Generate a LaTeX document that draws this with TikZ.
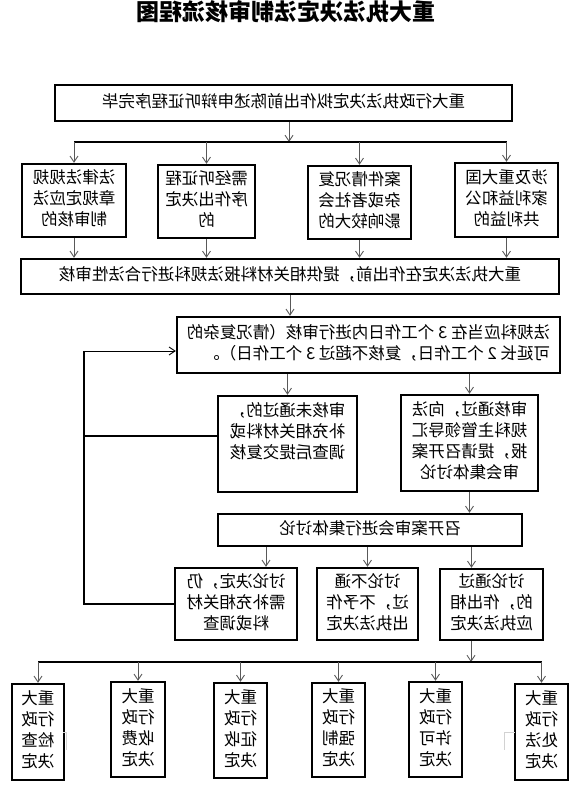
\documentclass[tikz,border=0pt]{standalone}
\usepackage{fontspec}
\setmainfont{Noto Sans CJK SC}
\usepackage{graphicx}
\usetikzlibrary{%
  arrows.meta%
}
\newcommand\mir[1]{\reflectbox{\begin{tabular}{@{}c@{}}#1\end{tabular}}}
\newcommand\mirl[1]{\reflectbox{\begin{tabular}{@{}l@{}}#1\end{tabular}}}
\tikzset{>={Straight Barb[length=6pt,width=8pt]}, box/.style = {draw, line width=2.3pt,
    inner sep=0pt, font=\fontsize{16.5}{21}\selectfont},%
    arrow/.style={->, line width=0.9pt, black!65},
    bus/.style={line width=2.2pt}}

\begin{document}
\begin{tikzpicture}[x=1pt,y=-1pt]
    \useasboundingbox (0,0) rectangle (582,792);
    \node[font=\fontsize{23}{26}\selectfont\bfseries] (title) at (286,14) {\mir{重大执法决定法制审核流程图}};
    \node[box, minimum width=457pt, minimum height=36pt] (hearing) at (283.5,103) {\mir{重大行政执法决定拟作出前陈述申辩听证程序完毕}};
    \node[box, minimum width=104pt, minimum height=73pt] (law) at (74,200.5) {\mir{法律法规规\\章规定应法\\制审核的}};
    \node[box, minimum width=97pt, minimum height=73pt] (hear) at (206.5,201.5) {\mir{需经听证程\\序作出决定\\的}};
    \node[box, minimum width=103pt, minimum height=73pt] (complex) at (359.5,202.5) {\mir{案件情况复\\杂或者社会\\影响较大的}};
    \node[box, minimum width=103pt, minimum height=74pt] (public) at (506.5,200) {\mir{涉及重大国\\家利益和公\\共利益的}};
    \node[box, minimum width=538pt, minimum height=35pt] (review) at (290,276.5) {\mir{重大执法决定在作出前，提供相关材料报法规科进行合法性审核}};
    \node[box, minimum width=383pt, minimum height=56pt] (days) at (368.5,345) {\mirl{法规科应当在 3 个工作日内进行审核（情况复杂的\\可延长 2 个工作日，复核不超过 3 个工作日）。}};
    \node[box, minimum width=139pt, minimum height=96pt] (fail) at (287.5,444) {\mir{审核未通过的，\\补充相关材料或\\调查后提交复核\\~}};
    \node[box, minimum width=137pt, minimum height=96pt] (pass) at (469.5,443) {\mir{审核通过，向法\\规科主管领导汇\\报，提请召开案\\审会集体讨论}};
    \node[box, minimum width=304pt, minimum height=32pt] (meeting) at (370,530) {\mir{召开案审会进行集体讨论}};
    \node[box, minimum width=122pt, minimum height=72pt] (more) at (236,604) {\mir{讨论决定，仍\\需补充相关材\\料或调查}};
    \node[box, minimum width=101pt, minimum height=72pt] (reject) at (367.5,604) {\mir{讨论不通\\过，不予作\\出执法决定}};
    \node[box, minimum width=103pt, minimum height=71pt] (approve) at (491.5,604.5) {\mir{讨论通过\\的，作出相\\应执法决定}};
    \node[box, minimum width=52pt, minimum height=96pt] (check) at (38,732) {\mir{重大\\行政\\检查\\决定}};
    \node[box, minimum width=54pt, minimum height=95pt] (fee) at (138,729.5) {\mir{重大\\行政\\收费\\决定}};
    \node[box, minimum width=53pt, minimum height=95pt] (levy) at (240.5,730.5) {\mir{重大\\行政\\征收\\决定}};
    \node[box, minimum width=53pt, minimum height=94pt] (force) at (338.5,730) {\mir{重大\\行政\\强制\\决定}};
    \node[box, minimum width=53pt, minimum height=95pt] (permit) at (435.5,729.5) {\mir{重大\\行政\\许可\\决定}};
    \node[box, minimum width=53pt, minimum height=96pt] (punish) at (541.5,732) {\mir{重大\\行政\\处法\\决定}};
    \coordinate (b1) at (289,142);
    \coordinate (b2) at (471,662);
    \coordinate (loop) at (84,351);
    \draw[arrow] (b1 |- hearing.south) -- (b1);
    \draw[bus] (law.north |- b1) -- (public.north |- b1);
    \foreach \n in {law,hear,complex,public}
      \draw[arrow] (\n.north |- b1) -- (\n.north);
    \foreach \n in {law,hear,complex,public}
      \draw[arrow] (\n.south) -- (\n.south |- review.north);
    \draw[arrow] (review.south) -- (review.south |- days.north);
    \draw[arrow] (fail.north |- days.south) -- (fail.north);
    \draw[arrow] (pass.north |- days.south) -- (pass.north);
    \draw[arrow] (pass.south) -- (pass.south |- meeting.north);
    \draw[arrow] ([xshift=30pt]more.north |- meeting.south) -- ([xshift=30pt]more.north);
    \draw[arrow] (reject.north |- meeting.south) -- (reject.north);
    \draw[arrow] ([xshift=-20pt]approve.north |- meeting.south) -- ([xshift=-20pt]approve.north);
    \draw[arrow] (b2 |- approve.south) -- (b2);
    \draw[bus] (check.north |- b2) -- (punish.north |- b2);
    \foreach \n in {check,fee,levy,force,permit,punish}
      \draw[arrow] (\n.north |- b2) -- (\n.north);
    \draw[bus] (more.west) -- (more.west -| loop) -- (loop);
    \draw[bus] ([yshift=8pt]fail.west) -- ([yshift=8pt]fail.west -| loop);
    \draw[->, line width=0.9pt] (loop) -- (loop -| days.west);
    \draw[gray!35] (63,732) -| (66,750);
    \draw[gray!35] (515,732) -| (504,750);
\end{tikzpicture}
\end{document}
